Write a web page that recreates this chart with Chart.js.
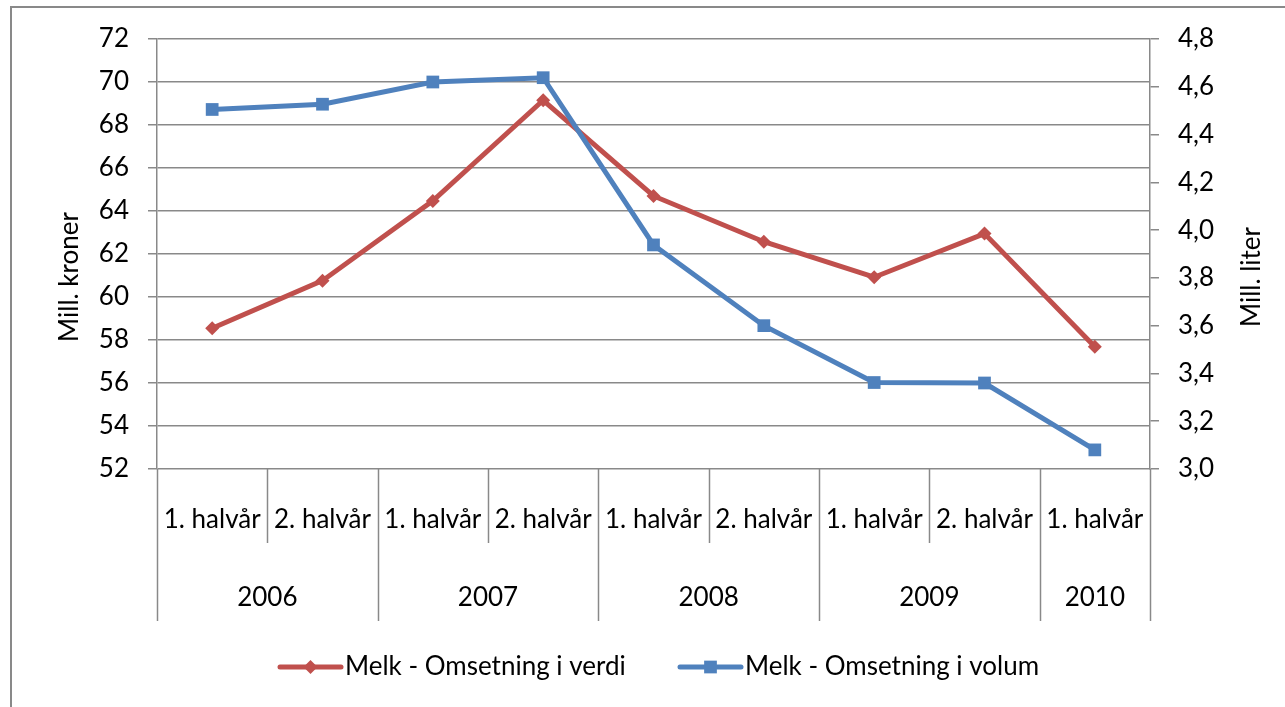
<!DOCTYPE html>
<html>
<head>
<meta charset="utf-8">
<script src="https://cdn.jsdelivr.net/npm/chart.js@4/dist/chart.umd.min.js"></script>
<style>
html,body{margin:0;padding:0;background:#fff;}
#wrap{width:1285px;height:707px;position:relative;}
</style>
</head>
<body>
<div id="wrap"><canvas id="c"></canvas></div>
<script>
const halfLabels = ["1. halvår","2. halvår","1. halvår","2. halvår","1. halvår","2. halvår","1. halvår","2. halvår","1. halvår"];
const years = ["2006","2007","2008","2009","2010"];
const yearSpans = [2,2,2,2,1];
const verdi = [58.55, 60.76, 64.47, 69.15, 64.70, 62.57, 60.92, 62.95, 57.69];
const volum = [4.505, 4.527, 4.620, 4.638, 3.938, 3.600, 3.362, 3.360, 3.080];
const seriesNames = ["Melk - Omsetning i verdi", "Melk - Omsetning i volum"];
const leftTitle = "Mill. kroner";
const rightTitle = "Mill. liter";

const RED = "#C0504D", BLUE = "#4F81BD", GRID = "#898989";
const FONT = "Lato, 'Open Sans', sans-serif";
const FS = 26;

const customPlugin = {
  id: 'custom',
  beforeDraw(chart) {
    const ctx = chart.ctx;
    ctx.save();
    ctx.fillStyle = '#fff';
    ctx.fillRect(0,0,chart.width,chart.height);
    ctx.strokeStyle = GRID;
    ctx.lineWidth = 2;
    ctx.beginPath();
    ctx.moveTo(11, chart.height);
    ctx.lineTo(11, 7);
    ctx.lineTo(chart.width, 7);
    ctx.stroke();
    ctx.restore();
  },
  afterDraw(chart) {
    const ctx = chart.ctx;
    const ca = chart.chartArea;
    const xs = chart.scales.x;
    const n = halfLabels.length;
    const px = i => xs.getPixelForValue(i);
    const bounds = [];
    for (let i = 0; i <= n; i++) {
      if (i === 0) bounds.push(ca.left);
      else if (i === n) bounds.push(ca.right);
      else bounds.push((px(i-1) + px(i)) / 2);
    }
    const yearBoundIdx = new Set([0]);
    let acc = 0;
    yearSpans.forEach(s => { acc += s; yearBoundIdx.add(acc); });
    ctx.save();
    ctx.strokeStyle = GRID;
    ctx.lineWidth = 1.5;
    for (let i = 0; i <= n; i++) {
      const x = Math.round(bounds[i]) + 0.5;
      ctx.beginPath();
      ctx.moveTo(x, ca.bottom);
      ctx.lineTo(x, yearBoundIdx.has(i) ? ca.bottom + 152 : ca.bottom + 74);
      ctx.stroke();
    }
    ctx.fillStyle = '#000';
    ctx.font = FS + 'px ' + FONT;
    ctx.textAlign = 'center';
    ctx.textBaseline = 'middle';
    for (let i = 0; i < n; i++) {
      ctx.fillText(halfLabels[i], px(i), ca.bottom + 51);
    }
    let start = 0;
    years.forEach((y, k) => {
      const end = start + yearSpans[k];
      ctx.fillText(y, (bounds[start] + bounds[end]) / 2, ca.bottom + 129);
      start = end;
    });
    // axis titles
    ctx.save();
    ctx.translate(70, 277);
    ctx.rotate(-Math.PI/2);
    ctx.fillText(leftTitle, 0, 0);
    ctx.restore();
    ctx.save();
    ctx.translate(1252, 277);
    ctx.rotate(-Math.PI/2);
    ctx.fillText(rightTitle, 0, 0);
    ctx.restore();
    // legend
    const ly = 667;
    const items = [
      {x0: 280, x1: 341, tx: 345, color: RED, style: 'rectRot', r: 7, name: seriesNames[0]},
      {x0: 680, x1: 741, tx: 745, color: BLUE, style: 'rect', r: 9, name: seriesNames[1]}
    ];
    items.forEach(it => {
      ctx.strokeStyle = it.color;
      ctx.lineWidth = 5;
      ctx.lineCap = 'round';
      ctx.beginPath();
      ctx.moveTo(it.x0, ly);
      ctx.lineTo(it.x1, ly);
      ctx.stroke();
      ctx.fillStyle = it.color;
      Chart.helpers.drawPoint(ctx, {pointStyle: it.style, radius: it.r, rotation: 0, borderWidth: 0}, (it.x0+it.x1)/2, ly);
      ctx.fillStyle = '#000';
      ctx.textAlign = 'left';
      ctx.fillText(it.name, it.tx, ly);
    });
    ctx.restore();
  }
};

const tickFmt = v => Number(v).toFixed(1).replace('.', ',');

new Chart(document.getElementById('c'), {
  type: 'line',
  data: {
    labels: halfLabels,
    datasets: [
      {label: seriesNames[0], data: verdi, yAxisID: 'y', borderColor: RED, backgroundColor: RED,
       borderWidth: 5, pointStyle: 'rectRot', pointRadius: 7, pointBorderWidth: 0, tension: 0, order: 2},
      {label: seriesNames[1], data: volum, yAxisID: 'y1', borderColor: BLUE, backgroundColor: BLUE,
       borderWidth: 5, pointStyle: 'rect', pointRadius: 9, pointBorderWidth: 0, tension: 0, order: 1}
    ]
  },
  options: {
    responsive: true,
    maintainAspectRatio: false,
    animation: false,
    devicePixelRatio: 1,
    layout: {padding: {top: 39, left: 0, right: 0, bottom: 0}},
    plugins: {legend: {display: false}, tooltip: {enabled: false}},
    scales: {
      x: {
        type: 'category', offset: true,
        grid: {display: false}, ticks: {display: false}, border: {display: false},
        afterFit(s) { s.height = 238; }
      },
      y: {
        position: 'left', min: 52, max: 72,
        ticks: {stepSize: 2, color: '#000', padding: 19, font: {family: FONT, size: FS}},
        grid: {color: GRID, lineWidth: 1.5, tickLength: 9},
        border: {color: GRID, width: 1.5},
        afterFit(s) { s.width = 157; }
      },
      y1: {
        position: 'right', min: 3.0, max: 4.8,
        ticks: {stepSize: 0.2, color: '#000', padding: 19, font: {family: FONT, size: FS}, callback: tickFmt},
        grid: {drawOnChartArea: false, color: GRID, lineWidth: 1.5, tickLength: 9},
        border: {color: GRID, width: 1.5},
        afterFit(s) { s.width = 135; }
      }
    }
  },
  plugins: [customPlugin]
});
</script>
</body>
</html>
